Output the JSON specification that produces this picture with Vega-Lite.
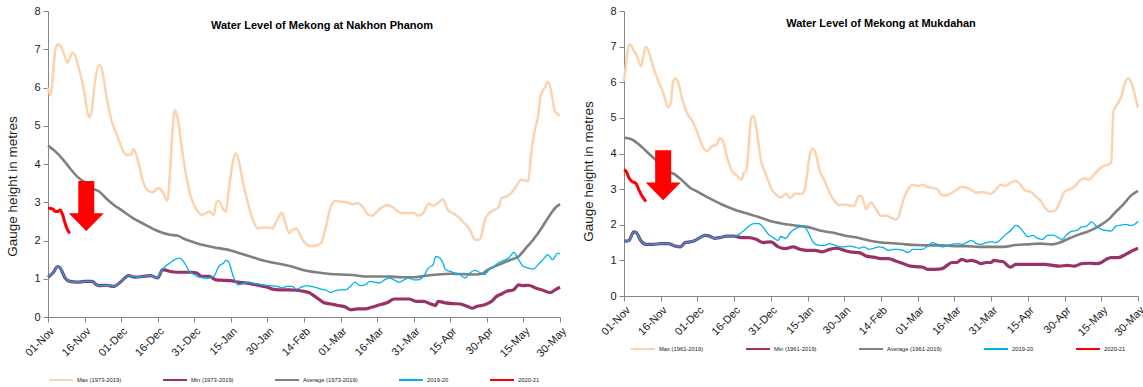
{
  "$schema": "https://vega.github.io/schema/vega-lite/v6.json",
  "background": "white",
  "padding": {"left": 5, "top": 5, "right": 0, "bottom": 5},
  "spacing": 13,
  "datasets": {
    "np": [
      {"s":"max","d":0,"v":6.0},{"s":"max","d":1,"v":5.79},{"s":"max","d":3,"v":6.98},{"s":"max","d":4,"v":7.13},{"s":"max","d":6,"v":6.98},{"s":"max","d":8,"v":6.65},{"s":"max","d":10,"v":6.91},{"s":"max","d":11,"v":6.85},{"s":"max","d":13,"v":6.41},{"s":"max","d":15,"v":5.85},{"s":"max","d":16,"v":5.41},{"s":"max","d":17,"v":5.22},{"s":"max","d":18,"v":5.41},{"s":"max","d":19,"v":6.02},{"s":"max","d":21,"v":6.59},{"s":"max","d":22,"v":6.5},{"s":"max","d":24,"v":5.76},{"s":"max","d":26,"v":5.15},{"s":"max","d":28,"v":4.8},{"s":"max","d":30,"v":4.46},{"s":"max","d":32,"v":4.24},{"s":"max","d":34,"v":4.24},{"s":"max","d":35,"v":4.39},{"s":"max","d":37,"v":4.06},{"s":"max","d":39,"v":3.54},{"s":"max","d":41,"v":3.3},{"s":"max","d":43,"v":3.26},{"s":"max","d":45,"v":3.37},{"s":"max","d":47,"v":3.28},{"s":"max","d":49,"v":3.04},{"s":"max","d":50,"v":3.76},{"s":"max","d":51,"v":4.8},{"s":"max","d":52,"v":5.41},{"s":"max","d":53,"v":5.24},{"s":"max","d":55,"v":4.37},{"s":"max","d":57,"v":3.59},{"s":"max","d":59,"v":3.06},{"s":"max","d":61,"v":2.8},{"s":"max","d":63,"v":2.67},{"s":"max","d":65,"v":2.72},{"s":"max","d":66,"v":2.76},{"s":"max","d":68,"v":2.67},{"s":"max","d":69,"v":2.98},{"s":"max","d":70,"v":3.04},{"s":"max","d":72,"v":2.8},{"s":"max","d":73,"v":2.76},{"s":"max","d":74,"v":3.24},{"s":"max","d":76,"v":4.11},{"s":"max","d":77,"v":4.28},{"s":"max","d":78,"v":4.15},{"s":"max","d":80,"v":3.5},{"s":"max","d":82,"v":2.98},{"s":"max","d":84,"v":2.54},{"s":"max","d":86,"v":2.32},{"s":"max","d":88,"v":2.34},{"s":"max","d":90,"v":2.34},{"s":"max","d":92,"v":2.32},{"s":"max","d":94,"v":2.54},{"s":"max","d":96,"v":2.73},{"s":"max","d":97,"v":2.54},{"s":"max","d":99,"v":2.19},{"s":"max","d":100,"v":2.28},{"s":"max","d":102,"v":2.31},{"s":"max","d":104,"v":2.06},{"s":"max","d":106,"v":1.91},{"s":"max","d":108,"v":1.85},{"s":"max","d":110,"v":1.87},{"s":"max","d":112,"v":1.93},{"s":"max","d":114,"v":2.37},{"s":"max","d":116,"v":2.89},{"s":"max","d":118,"v":3.04},{"s":"max","d":120,"v":3.02},{"s":"max","d":123,"v":2.99},{"s":"max","d":125,"v":2.95},{"s":"max","d":127,"v":2.98},{"s":"max","d":129,"v":2.89},{"s":"max","d":131,"v":2.69},{"s":"max","d":133,"v":2.65},{"s":"max","d":135,"v":2.76},{"s":"max","d":137,"v":2.87},{"s":"max","d":139,"v":2.93},{"s":"max","d":141,"v":2.89},{"s":"max","d":143,"v":2.78},{"s":"max","d":145,"v":2.72},{"s":"max","d":148,"v":2.72},{"s":"max","d":150,"v":2.72},{"s":"max","d":152,"v":2.65},{"s":"max","d":154,"v":2.72},{"s":"max","d":156,"v":2.96},{"s":"max","d":158,"v":2.91},{"s":"max","d":160,"v":2.98},{"s":"max","d":162,"v":3.08},{"s":"max","d":164,"v":2.8},{"s":"max","d":166,"v":2.72},{"s":"max","d":168,"v":2.63},{"s":"max","d":170,"v":2.5},{"s":"max","d":172,"v":2.37},{"s":"max","d":173,"v":2.28},{"s":"max","d":174,"v":2.15},{"s":"max","d":175,"v":2.02},{"s":"max","d":177,"v":2.02},{"s":"max","d":178,"v":2.19},{"s":"max","d":179,"v":2.5},{"s":"max","d":181,"v":2.72},{"s":"max","d":183,"v":2.8},{"s":"max","d":185,"v":2.89},{"s":"max","d":186,"v":3.11},{"s":"max","d":188,"v":3.15},{"s":"max","d":190,"v":3.24},{"s":"max","d":192,"v":3.41},{"s":"max","d":194,"v":3.59},{"s":"max","d":196,"v":3.56},{"s":"max","d":197,"v":3.55},{"s":"max","d":198,"v":4.2},{"s":"max","d":200,"v":4.98},{"s":"max","d":201,"v":5.24},{"s":"max","d":202,"v":5.76},{"s":"max","d":204,"v":6.02},{"s":"max","d":205,"v":6.15},{"s":"max","d":206,"v":6.02},{"s":"max","d":207,"v":5.67},{"s":"max","d":208,"v":5.37},{"s":"max","d":210,"v":5.26},
      {"s":"avg","d":0,"v":4.48},{"s":"avg","d":3,"v":4.33},{"s":"avg","d":6,"v":4.13},{"s":"avg","d":9,"v":3.89},{"s":"avg","d":12,"v":3.67},{"s":"avg","d":15,"v":3.52},{"s":"avg","d":18,"v":3.37},{"s":"avg","d":21,"v":3.28},{"s":"avg","d":24,"v":3.09},{"s":"avg","d":27,"v":2.93},{"s":"avg","d":30,"v":2.8},{"s":"avg","d":35,"v":2.58},{"s":"avg","d":40,"v":2.41},{"s":"avg","d":45,"v":2.25},{"s":"avg","d":50,"v":2.15},{"s":"avg","d":53,"v":2.13},{"s":"avg","d":56,"v":2.04},{"s":"avg","d":60,"v":1.95},{"s":"avg","d":65,"v":1.86},{"s":"avg","d":70,"v":1.8},{"s":"avg","d":75,"v":1.74},{"s":"avg","d":80,"v":1.64},{"s":"avg","d":85,"v":1.54},{"s":"avg","d":90,"v":1.45},{"s":"avg","d":95,"v":1.39},{"s":"avg","d":100,"v":1.32},{"s":"avg","d":105,"v":1.22},{"s":"avg","d":110,"v":1.17},{"s":"avg","d":115,"v":1.13},{"s":"avg","d":120,"v":1.11},{"s":"avg","d":125,"v":1.1},{"s":"avg","d":130,"v":1.06},{"s":"avg","d":135,"v":1.06},{"s":"avg","d":140,"v":1.06},{"s":"avg","d":145,"v":1.04},{"s":"avg","d":150,"v":1.04},{"s":"avg","d":155,"v":1.08},{"s":"avg","d":160,"v":1.11},{"s":"avg","d":165,"v":1.13},{"s":"avg","d":170,"v":1.12},{"s":"avg","d":175,"v":1.11},{"s":"avg","d":178,"v":1.13},{"s":"avg","d":180,"v":1.22},{"s":"avg","d":185,"v":1.37},{"s":"avg","d":190,"v":1.5},{"s":"avg","d":193,"v":1.58},{"s":"avg","d":196,"v":1.8},{"s":"avg","d":199,"v":2.02},{"s":"avg","d":202,"v":2.28},{"s":"avg","d":205,"v":2.58},{"s":"avg","d":208,"v":2.85},{"s":"avg","d":210,"v":2.95},
      {"s":"min","d":0,"v":1.04},{"s":"min","d":2,"v":1.15},{"s":"min","d":4,"v":1.32},{"s":"min","d":5,"v":1.28},{"s":"min","d":7,"v":1.02},{"s":"min","d":9,"v":0.93},{"s":"min","d":12,"v":0.91},{"s":"min","d":15,"v":0.93},{"s":"min","d":18,"v":0.93},{"s":"min","d":20,"v":0.84},{"s":"min","d":21,"v":0.82},{"s":"min","d":24,"v":0.83},{"s":"min","d":27,"v":0.8},{"s":"min","d":30,"v":0.93},{"s":"min","d":33,"v":1.08},{"s":"min","d":36,"v":1.04},{"s":"min","d":39,"v":1.06},{"s":"min","d":42,"v":1.08},{"s":"min","d":45,"v":1.02},{"s":"min","d":47,"v":1.24},{"s":"min","d":50,"v":1.19},{"s":"min","d":53,"v":1.17},{"s":"min","d":56,"v":1.17},{"s":"min","d":59,"v":1.17},{"s":"min","d":61,"v":1.15},{"s":"min","d":63,"v":1.06},{"s":"min","d":66,"v":1.06},{"s":"min","d":69,"v":0.97},{"s":"min","d":72,"v":0.96},{"s":"min","d":75,"v":0.95},{"s":"min","d":78,"v":0.91},{"s":"min","d":81,"v":0.89},{"s":"min","d":84,"v":0.86},{"s":"min","d":87,"v":0.82},{"s":"min","d":90,"v":0.78},{"s":"min","d":92,"v":0.73},{"s":"min","d":95,"v":0.71},{"s":"min","d":99,"v":0.71},{"s":"min","d":102,"v":0.7},{"s":"min","d":105,"v":0.67},{"s":"min","d":107,"v":0.64},{"s":"min","d":109,"v":0.56},{"s":"min","d":111,"v":0.47},{"s":"min","d":113,"v":0.38},{"s":"min","d":116,"v":0.34},{"s":"min","d":119,"v":0.3},{"s":"min","d":122,"v":0.26},{"s":"min","d":124,"v":0.19},{"s":"min","d":127,"v":0.21},{"s":"min","d":130,"v":0.21},{"s":"min","d":133,"v":0.26},{"s":"min","d":136,"v":0.32},{"s":"min","d":139,"v":0.37},{"s":"min","d":142,"v":0.47},{"s":"min","d":145,"v":0.47},{"s":"min","d":148,"v":0.47},{"s":"min","d":151,"v":0.41},{"s":"min","d":154,"v":0.41},{"s":"min","d":157,"v":0.34},{"s":"min","d":159,"v":0.3},{"s":"min","d":160,"v":0.41},{"s":"min","d":163,"v":0.37},{"s":"min","d":166,"v":0.35},{"s":"min","d":169,"v":0.34},{"s":"min","d":172,"v":0.28},{"s":"min","d":174,"v":0.23},{"s":"min","d":176,"v":0.28},{"s":"min","d":179,"v":0.32},{"s":"min","d":182,"v":0.41},{"s":"min","d":184,"v":0.54},{"s":"min","d":186,"v":0.6},{"s":"min","d":188,"v":0.67},{"s":"min","d":191,"v":0.71},{"s":"min","d":193,"v":0.84},{"s":"min","d":195,"v":0.82},{"s":"min","d":197,"v":0.83},{"s":"min","d":200,"v":0.76},{"s":"min","d":203,"v":0.7},{"s":"min","d":206,"v":0.64},{"s":"min","d":208,"v":0.71},{"s":"min","d":210,"v":0.78},
      {"s":"y1920","d":0,"v":1.06},{"s":"y1920","d":2,"v":1.15},{"s":"y1920","d":4,"v":1.32},{"s":"y1920","d":5,"v":1.28},{"s":"y1920","d":7,"v":1.02},{"s":"y1920","d":9,"v":0.93},{"s":"y1920","d":12,"v":0.91},{"s":"y1920","d":15,"v":0.93},{"s":"y1920","d":18,"v":0.93},{"s":"y1920","d":20,"v":0.84},{"s":"y1920","d":21,"v":0.82},{"s":"y1920","d":24,"v":0.83},{"s":"y1920","d":27,"v":0.8},{"s":"y1920","d":30,"v":0.93},{"s":"y1920","d":33,"v":1.08},{"s":"y1920","d":36,"v":1.04},{"s":"y1920","d":39,"v":1.06},{"s":"y1920","d":42,"v":1.08},{"s":"y1920","d":45,"v":1.02},{"s":"y1920","d":46,"v":1.15},{"s":"y1920","d":48,"v":1.32},{"s":"y1920","d":50,"v":1.41},{"s":"y1920","d":52,"v":1.5},{"s":"y1920","d":54,"v":1.54},{"s":"y1920","d":56,"v":1.41},{"s":"y1920","d":58,"v":1.19},{"s":"y1920","d":60,"v":1.11},{"s":"y1920","d":62,"v":1.04},{"s":"y1920","d":64,"v":1.02},{"s":"y1920","d":66,"v":1.02},{"s":"y1920","d":68,"v":1.06},{"s":"y1920","d":70,"v":1.32},{"s":"y1920","d":72,"v":1.41},{"s":"y1920","d":73,"v":1.48},{"s":"y1920","d":74,"v":1.45},{"s":"y1920","d":76,"v":1.06},{"s":"y1920","d":78,"v":0.84},{"s":"y1920","d":80,"v":0.87},{"s":"y1920","d":82,"v":0.91},{"s":"y1920","d":85,"v":0.87},{"s":"y1920","d":88,"v":0.84},{"s":"y1920","d":91,"v":0.82},{"s":"y1920","d":94,"v":0.8},{"s":"y1920","d":96,"v":0.76},{"s":"y1920","d":98,"v":0.8},{"s":"y1920","d":100,"v":0.8},{"s":"y1920","d":102,"v":0.73},{"s":"y1920","d":104,"v":0.78},{"s":"y1920","d":106,"v":0.82},{"s":"y1920","d":108,"v":0.8},{"s":"y1920","d":110,"v":0.77},{"s":"y1920","d":112,"v":0.73},{"s":"y1920","d":114,"v":0.7},{"s":"y1920","d":116,"v":0.64},{"s":"y1920","d":118,"v":0.69},{"s":"y1920","d":120,"v":0.71},{"s":"y1920","d":122,"v":0.71},{"s":"y1920","d":124,"v":0.8},{"s":"y1920","d":126,"v":0.91},{"s":"y1920","d":128,"v":0.82},{"s":"y1920","d":130,"v":0.84},{"s":"y1920","d":132,"v":0.93},{"s":"y1920","d":134,"v":0.91},{"s":"y1920","d":136,"v":0.89},{"s":"y1920","d":138,"v":0.97},{"s":"y1920","d":140,"v":1.02},{"s":"y1920","d":142,"v":0.97},{"s":"y1920","d":144,"v":0.91},{"s":"y1920","d":146,"v":0.97},{"s":"y1920","d":148,"v":1.02},{"s":"y1920","d":150,"v":0.97},{"s":"y1920","d":152,"v":0.97},{"s":"y1920","d":154,"v":1.06},{"s":"y1920","d":156,"v":1.28},{"s":"y1920","d":158,"v":1.37},{"s":"y1920","d":159,"v":1.58},{"s":"y1920","d":160,"v":1.57},{"s":"y1920","d":162,"v":1.41},{"s":"y1920","d":163,"v":1.24},{"s":"y1920","d":165,"v":1.19},{"s":"y1920","d":167,"v":1.15},{"s":"y1920","d":169,"v":1.11},{"s":"y1920","d":171,"v":1.02},{"s":"y1920","d":173,"v":1.15},{"s":"y1920","d":175,"v":1.22},{"s":"y1920","d":177,"v":1.17},{"s":"y1920","d":179,"v":1.11},{"s":"y1920","d":181,"v":1.24},{"s":"y1920","d":183,"v":1.32},{"s":"y1920","d":185,"v":1.43},{"s":"y1920","d":187,"v":1.48},{"s":"y1920","d":189,"v":1.54},{"s":"y1920","d":191,"v":1.69},{"s":"y1920","d":193,"v":1.5},{"s":"y1920","d":195,"v":1.32},{"s":"y1920","d":197,"v":1.28},{"s":"y1920","d":199,"v":1.25},{"s":"y1920","d":201,"v":1.37},{"s":"y1920","d":203,"v":1.5},{"s":"y1920","d":205,"v":1.63},{"s":"y1920","d":207,"v":1.5},{"s":"y1920","d":209,"v":1.67},{"s":"y1920","d":210,"v":1.65},
      {"s":"y2021","d":0,"v":2.85},{"s":"y2021","d":2,"v":2.82},{"s":"y2021","d":3,"v":2.76},{"s":"y2021","d":4,"v":2.76},{"s":"y2021","d":5,"v":2.8},{"s":"y2021","d":6,"v":2.67},{"s":"y2021","d":7,"v":2.45},{"s":"y2021","d":8,"v":2.28},{"s":"y2021","d":9,"v":2.19}
    ],
    "mk": [
      {"s":"max","d":0,"v":6.03},{"s":"max","d":1,"v":6.6},{"s":"max","d":2,"v":7.06},{"s":"max","d":3,"v":7.02},{"s":"max","d":4,"v":6.88},{"s":"max","d":5,"v":6.78},{"s":"max","d":7,"v":6.45},{"s":"max","d":8,"v":6.78},{"s":"max","d":9,"v":6.99},{"s":"max","d":10,"v":6.88},{"s":"max","d":12,"v":6.41},{"s":"max","d":14,"v":6.03},{"s":"max","d":16,"v":5.71},{"s":"max","d":18,"v":5.3},{"s":"max","d":19,"v":5.38},{"s":"max","d":20,"v":5.99},{"s":"max","d":21,"v":6.11},{"s":"max","d":22,"v":6.03},{"s":"max","d":24,"v":5.47},{"s":"max","d":26,"v":5.1},{"s":"max","d":28,"v":4.91},{"s":"max","d":30,"v":4.58},{"s":"max","d":32,"v":4.21},{"s":"max","d":34,"v":4.07},{"s":"max","d":36,"v":4.21},{"s":"max","d":38,"v":4.26},{"s":"max","d":39,"v":4.42},{"s":"max","d":40,"v":4.4},{"s":"max","d":42,"v":3.93},{"s":"max","d":44,"v":3.51},{"s":"max","d":46,"v":3.39},{"s":"max","d":48,"v":3.27},{"s":"max","d":49,"v":3.46},{"s":"max","d":50,"v":3.51},{"s":"max","d":51,"v":4.26},{"s":"max","d":52,"v":5.0},{"s":"max","d":53,"v":5.05},{"s":"max","d":54,"v":4.72},{"s":"max","d":56,"v":3.79},{"s":"max","d":58,"v":3.41},{"s":"max","d":60,"v":3.04},{"s":"max","d":62,"v":2.85},{"s":"max","d":64,"v":2.76},{"s":"max","d":66,"v":2.87},{"s":"max","d":68,"v":2.76},{"s":"max","d":70,"v":2.87},{"s":"max","d":72,"v":2.87},{"s":"max","d":73,"v":2.87},{"s":"max","d":74,"v":3.04},{"s":"max","d":76,"v":3.99},{"s":"max","d":77,"v":4.13},{"s":"max","d":78,"v":4.07},{"s":"max","d":80,"v":3.51},{"s":"max","d":82,"v":3.23},{"s":"max","d":84,"v":2.9},{"s":"max","d":86,"v":2.67},{"s":"max","d":88,"v":2.55},{"s":"max","d":90,"v":2.57},{"s":"max","d":92,"v":2.55},{"s":"max","d":94,"v":2.53},{"s":"max","d":96,"v":2.81},{"s":"max","d":97,"v":2.81},{"s":"max","d":99,"v":2.43},{"s":"max","d":100,"v":2.57},{"s":"max","d":101,"v":2.62},{"s":"max","d":103,"v":2.43},{"s":"max","d":105,"v":2.25},{"s":"max","d":107,"v":2.25},{"s":"max","d":109,"v":2.2},{"s":"max","d":111,"v":2.15},{"s":"max","d":112,"v":2.2},{"s":"max","d":114,"v":2.67},{"s":"max","d":116,"v":2.99},{"s":"max","d":118,"v":3.12},{"s":"max","d":120,"v":3.09},{"s":"max","d":122,"v":3.12},{"s":"max","d":124,"v":3.06},{"s":"max","d":126,"v":3.04},{"s":"max","d":128,"v":2.99},{"s":"max","d":130,"v":2.83},{"s":"max","d":132,"v":2.83},{"s":"max","d":134,"v":2.9},{"s":"max","d":136,"v":2.99},{"s":"max","d":138,"v":3.06},{"s":"max","d":140,"v":3.04},{"s":"max","d":142,"v":2.97},{"s":"max","d":144,"v":2.9},{"s":"max","d":146,"v":2.92},{"s":"max","d":148,"v":2.9},{"s":"max","d":150,"v":2.87},{"s":"max","d":152,"v":2.99},{"s":"max","d":154,"v":3.12},{"s":"max","d":156,"v":3.09},{"s":"max","d":158,"v":3.18},{"s":"max","d":160,"v":3.23},{"s":"max","d":162,"v":3.13},{"s":"max","d":164,"v":2.95},{"s":"max","d":166,"v":2.93},{"s":"max","d":168,"v":2.81},{"s":"max","d":170,"v":2.69},{"s":"max","d":172,"v":2.48},{"s":"max","d":174,"v":2.37},{"s":"max","d":176,"v":2.39},{"s":"max","d":178,"v":2.62},{"s":"max","d":180,"v":2.93},{"s":"max","d":182,"v":2.99},{"s":"max","d":184,"v":3.06},{"s":"max","d":186,"v":3.23},{"s":"max","d":188,"v":3.3},{"s":"max","d":190,"v":3.27},{"s":"max","d":192,"v":3.41},{"s":"max","d":194,"v":3.55},{"s":"max","d":196,"v":3.65},{"s":"max","d":198,"v":3.69},{"s":"max","d":199,"v":3.75},{"s":"max","d":200,"v":5.19},{"s":"max","d":202,"v":5.43},{"s":"max","d":203,"v":5.57},{"s":"max","d":205,"v":6.03},{"s":"max","d":206,"v":6.11},{"s":"max","d":207,"v":6.03},{"s":"max","d":209,"v":5.57},{"s":"max","d":210,"v":5.29},
      {"s":"avg","d":0,"v":4.44},{"s":"avg","d":3,"v":4.4},{"s":"avg","d":6,"v":4.26},{"s":"avg","d":9,"v":4.07},{"s":"avg","d":12,"v":3.88},{"s":"avg","d":15,"v":3.7},{"s":"avg","d":18,"v":3.51},{"s":"avg","d":21,"v":3.4},{"s":"avg","d":24,"v":3.23},{"s":"avg","d":27,"v":3.04},{"s":"avg","d":30,"v":2.93},{"s":"avg","d":35,"v":2.74},{"s":"avg","d":40,"v":2.57},{"s":"avg","d":45,"v":2.43},{"s":"avg","d":50,"v":2.32},{"s":"avg","d":55,"v":2.22},{"s":"avg","d":60,"v":2.1},{"s":"avg","d":65,"v":2.03},{"s":"avg","d":70,"v":1.98},{"s":"avg","d":75,"v":1.94},{"s":"avg","d":80,"v":1.84},{"s":"avg","d":85,"v":1.78},{"s":"avg","d":90,"v":1.7},{"s":"avg","d":95,"v":1.64},{"s":"avg","d":100,"v":1.56},{"s":"avg","d":105,"v":1.5},{"s":"avg","d":110,"v":1.48},{"s":"avg","d":115,"v":1.45},{"s":"avg","d":120,"v":1.43},{"s":"avg","d":125,"v":1.42},{"s":"avg","d":130,"v":1.42},{"s":"avg","d":135,"v":1.4},{"s":"avg","d":140,"v":1.4},{"s":"avg","d":145,"v":1.38},{"s":"avg","d":150,"v":1.38},{"s":"avg","d":155,"v":1.38},{"s":"avg","d":160,"v":1.43},{"s":"avg","d":165,"v":1.45},{"s":"avg","d":170,"v":1.47},{"s":"avg","d":175,"v":1.45},{"s":"avg","d":178,"v":1.5},{"s":"avg","d":182,"v":1.62},{"s":"avg","d":186,"v":1.73},{"s":"avg","d":190,"v":1.82},{"s":"avg","d":194,"v":1.96},{"s":"avg","d":198,"v":2.15},{"s":"avg","d":201,"v":2.37},{"s":"avg","d":204,"v":2.57},{"s":"avg","d":207,"v":2.81},{"s":"avg","d":210,"v":2.95},
      {"s":"min","d":0,"v":1.54},{"s":"min","d":2,"v":1.56},{"s":"min","d":4,"v":1.8},{"s":"min","d":5,"v":1.78},{"s":"min","d":7,"v":1.54},{"s":"min","d":9,"v":1.45},{"s":"min","d":12,"v":1.45},{"s":"min","d":15,"v":1.47},{"s":"min","d":18,"v":1.47},{"s":"min","d":21,"v":1.4},{"s":"min","d":23,"v":1.38},{"s":"min","d":25,"v":1.5},{"s":"min","d":27,"v":1.52},{"s":"min","d":29,"v":1.56},{"s":"min","d":31,"v":1.64},{"s":"min","d":33,"v":1.7},{"s":"min","d":35,"v":1.68},{"s":"min","d":37,"v":1.62},{"s":"min","d":39,"v":1.64},{"s":"min","d":42,"v":1.68},{"s":"min","d":45,"v":1.68},{"s":"min","d":48,"v":1.64},{"s":"min","d":51,"v":1.64},{"s":"min","d":54,"v":1.59},{"s":"min","d":57,"v":1.5},{"s":"min","d":60,"v":1.52},{"s":"min","d":63,"v":1.38},{"s":"min","d":66,"v":1.33},{"s":"min","d":69,"v":1.38},{"s":"min","d":72,"v":1.31},{"s":"min","d":75,"v":1.28},{"s":"min","d":78,"v":1.28},{"s":"min","d":81,"v":1.24},{"s":"min","d":84,"v":1.31},{"s":"min","d":87,"v":1.34},{"s":"min","d":90,"v":1.28},{"s":"min","d":93,"v":1.23},{"s":"min","d":96,"v":1.22},{"s":"min","d":99,"v":1.12},{"s":"min","d":102,"v":1.09},{"s":"min","d":105,"v":1.05},{"s":"min","d":108,"v":1.05},{"s":"min","d":111,"v":0.98},{"s":"min","d":114,"v":0.91},{"s":"min","d":117,"v":0.84},{"s":"min","d":120,"v":0.82},{"s":"min","d":122,"v":0.81},{"s":"min","d":124,"v":0.75},{"s":"min","d":127,"v":0.75},{"s":"min","d":130,"v":0.77},{"s":"min","d":132,"v":0.86},{"s":"min","d":134,"v":0.94},{"s":"min","d":136,"v":0.94},{"s":"min","d":138,"v":1.03},{"s":"min","d":140,"v":0.98},{"s":"min","d":142,"v":1.0},{"s":"min","d":144,"v":0.96},{"s":"min","d":146,"v":0.91},{"s":"min","d":148,"v":0.94},{"s":"min","d":150,"v":0.94},{"s":"min","d":151,"v":1.0},{"s":"min","d":153,"v":0.98},{"s":"min","d":155,"v":0.96},{"s":"min","d":157,"v":0.84},{"s":"min","d":158,"v":0.81},{"s":"min","d":160,"v":0.89},{"s":"min","d":163,"v":0.89},{"s":"min","d":166,"v":0.89},{"s":"min","d":169,"v":0.89},{"s":"min","d":172,"v":0.89},{"s":"min","d":175,"v":0.86},{"s":"min","d":178,"v":0.84},{"s":"min","d":181,"v":0.86},{"s":"min","d":184,"v":0.84},{"s":"min","d":187,"v":0.91},{"s":"min","d":190,"v":0.92},{"s":"min","d":193,"v":0.91},{"s":"min","d":195,"v":0.94},{"s":"min","d":197,"v":1.03},{"s":"min","d":199,"v":1.08},{"s":"min","d":202,"v":1.08},{"s":"min","d":205,"v":1.17},{"s":"min","d":208,"v":1.28},{"s":"min","d":210,"v":1.34},
      {"s":"y1920","d":0,"v":1.54},{"s":"y1920","d":2,"v":1.56},{"s":"y1920","d":4,"v":1.8},{"s":"y1920","d":5,"v":1.78},{"s":"y1920","d":7,"v":1.54},{"s":"y1920","d":9,"v":1.45},{"s":"y1920","d":12,"v":1.45},{"s":"y1920","d":15,"v":1.47},{"s":"y1920","d":18,"v":1.47},{"s":"y1920","d":21,"v":1.4},{"s":"y1920","d":23,"v":1.38},{"s":"y1920","d":25,"v":1.5},{"s":"y1920","d":27,"v":1.52},{"s":"y1920","d":29,"v":1.56},{"s":"y1920","d":31,"v":1.64},{"s":"y1920","d":33,"v":1.7},{"s":"y1920","d":35,"v":1.68},{"s":"y1920","d":37,"v":1.62},{"s":"y1920","d":39,"v":1.64},{"s":"y1920","d":42,"v":1.68},{"s":"y1920","d":45,"v":1.68},{"s":"y1920","d":47,"v":1.73},{"s":"y1920","d":49,"v":1.84},{"s":"y1920","d":51,"v":1.96},{"s":"y1920","d":53,"v":2.03},{"s":"y1920","d":55,"v":2.03},{"s":"y1920","d":57,"v":1.92},{"s":"y1920","d":59,"v":1.73},{"s":"y1920","d":61,"v":1.64},{"s":"y1920","d":63,"v":1.56},{"s":"y1920","d":64,"v":1.67},{"s":"y1920","d":66,"v":1.62},{"s":"y1920","d":68,"v":1.78},{"s":"y1920","d":70,"v":1.89},{"s":"y1920","d":72,"v":1.94},{"s":"y1920","d":74,"v":1.92},{"s":"y1920","d":75,"v":1.82},{"s":"y1920","d":77,"v":1.54},{"s":"y1920","d":79,"v":1.43},{"s":"y1920","d":82,"v":1.42},{"s":"y1920","d":84,"v":1.47},{"s":"y1920","d":86,"v":1.43},{"s":"y1920","d":88,"v":1.38},{"s":"y1920","d":90,"v":1.38},{"s":"y1920","d":92,"v":1.4},{"s":"y1920","d":94,"v":1.38},{"s":"y1920","d":96,"v":1.34},{"s":"y1920","d":98,"v":1.38},{"s":"y1920","d":100,"v":1.31},{"s":"y1920","d":102,"v":1.34},{"s":"y1920","d":104,"v":1.38},{"s":"y1920","d":106,"v":1.36},{"s":"y1920","d":108,"v":1.28},{"s":"y1920","d":110,"v":1.31},{"s":"y1920","d":112,"v":1.31},{"s":"y1920","d":114,"v":1.28},{"s":"y1920","d":116,"v":1.22},{"s":"y1920","d":118,"v":1.31},{"s":"y1920","d":120,"v":1.31},{"s":"y1920","d":122,"v":1.31},{"s":"y1920","d":124,"v":1.4},{"s":"y1920","d":126,"v":1.5},{"s":"y1920","d":128,"v":1.45},{"s":"y1920","d":130,"v":1.38},{"s":"y1920","d":132,"v":1.42},{"s":"y1920","d":134,"v":1.45},{"s":"y1920","d":136,"v":1.47},{"s":"y1920","d":138,"v":1.45},{"s":"y1920","d":140,"v":1.5},{"s":"y1920","d":142,"v":1.56},{"s":"y1920","d":144,"v":1.47},{"s":"y1920","d":146,"v":1.45},{"s":"y1920","d":148,"v":1.5},{"s":"y1920","d":150,"v":1.52},{"s":"y1920","d":152,"v":1.5},{"s":"y1920","d":154,"v":1.59},{"s":"y1920","d":156,"v":1.73},{"s":"y1920","d":158,"v":1.84},{"s":"y1920","d":160,"v":1.98},{"s":"y1920","d":161,"v":1.96},{"s":"y1920","d":163,"v":1.82},{"s":"y1920","d":165,"v":1.66},{"s":"y1920","d":167,"v":1.7},{"s":"y1920","d":169,"v":1.62},{"s":"y1920","d":171,"v":1.59},{"s":"y1920","d":173,"v":1.7},{"s":"y1920","d":175,"v":1.71},{"s":"y1920","d":177,"v":1.66},{"s":"y1920","d":179,"v":1.59},{"s":"y1920","d":181,"v":1.73},{"s":"y1920","d":183,"v":1.82},{"s":"y1920","d":185,"v":1.84},{"s":"y1920","d":187,"v":1.94},{"s":"y1920","d":189,"v":1.96},{"s":"y1920","d":191,"v":2.08},{"s":"y1920","d":193,"v":1.96},{"s":"y1920","d":195,"v":1.87},{"s":"y1920","d":197,"v":1.84},{"s":"y1920","d":199,"v":1.82},{"s":"y1920","d":201,"v":1.96},{"s":"y1920","d":203,"v":1.99},{"s":"y1920","d":205,"v":2.01},{"s":"y1920","d":207,"v":1.98},{"s":"y1920","d":209,"v":2.03},{"s":"y1920","d":210,"v":2.1},
      {"s":"y2021","d":0,"v":3.55},{"s":"y2021","d":1,"v":3.49},{"s":"y2021","d":2,"v":3.32},{"s":"y2021","d":3,"v":3.23},{"s":"y2021","d":5,"v":3.15},{"s":"y2021","d":6,"v":2.99},{"s":"y2021","d":7,"v":2.85},{"s":"y2021","d":9,"v":2.65}
    ]
  },
  "hconcat": [
    {
      "width": 512,
      "height": 306,
      "title": {"text": "Water Level of Mekong at Nakhon Phanom", "offset": -35, "dx": 18, "baseline": "alphabetic", "anchor": "middle", "font": "Liberation Sans", "fontSize": 11, "fontWeight": "bold", "color": "#000000"},
      "encoding": {
        "x": {"field": "d", "type": "quantitative", "scale": {"domain": [0, 210], "nice": false, "zero": false},
          "axis": {"title": null, "values": [0,15,30,45,60,75,90,105,120,135,150,165,180,195,210], "labelAngle": -45,
            "labelExpr": "['01-Nov','16-Nov','01-Dec','16-Dec','31-Dec','15-Jan','30-Jan','14-Feb','01-Mar','16-Mar','31-Mar','15-Apr','30-Apr','15-May','30-May'][round(datum.value/15)]"}},
        "y": {"field": "v", "type": "quantitative", "scale": {"domain": [0, 8], "nice": false},
          "axis": {"title": "Gauge height in metres", "values": [0,1,2,3,4,5,6,7,8], "titleY": 175}},
        "color": {"field": "s", "type": "nominal",
          "scale": {"domain": ["max","min","avg","y1920","y2021"], "range": ["#FCD3AF","#993366","#808080","#00B0F0","#FF0000"]},
          "legend": {"orient": "none", "legendX": 0, "legendY": 356, "direction": "horizontal", "columns": 5, "columnPadding": 37, "labelExpr": "datum.label == 'max' ? 'Max (1973-2019)' : datum.label == 'min' ? 'Min (1973-2019)' : datum.label == 'avg' ? 'Average (1973-2019)' : datum.label == 'y1920' ? '2019-20' : '2020-21'"}}
      },
      "layer": [
        {"data": {"name": "np"}, "transform": [{"filter": "datum.s == 'max'"}], "mark": {"type": "line", "interpolate": "monotone", "strokeWidth": 2.5}},
        {"data": {"name": "np"}, "transform": [{"filter": "datum.s == 'avg'"}], "mark": {"type": "line", "interpolate": "monotone", "strokeWidth": 2.6}},
        {"data": {"name": "np"}, "transform": [{"filter": "datum.s == 'min'"}], "mark": {"type": "line", "interpolate": "monotone", "strokeWidth": 3.2}},
        {"data": {"name": "np"}, "transform": [{"filter": "datum.s == 'y1920'"}], "mark": {"type": "line", "interpolate": "monotone", "strokeWidth": 1.3}},
        {"data": {"name": "np"}, "transform": [{"filter": "datum.s == 'y2021'"}], "mark": {"type": "line", "interpolate": "monotone", "strokeWidth": 3}},
        {
          "data": {"values": [{"d": 15.7, "v": 2.9}]},
          "mark": {"type": "point", "shape": "M-0.32,-1L0.32,-1L0.32,0.29L0.7,0.29L0,1L-0.7,0.29L-0.32,0.29Z", "size": 2500, "filled": true, "opacity": 1, "strokeWidth": 0},
          "encoding": {"color": {"value": "#FF0000"}}
        }
      ]
    },
    {
      "width": 514,
      "height": 285,
      "title": {"text": "Water Level of Mekong at Mukdahan", "offset": -33, "baseline": "alphabetic", "anchor": "middle", "font": "Liberation Sans", "fontSize": 11, "fontWeight": "bold", "color": "#000000"},
      "encoding": {
        "x": {"field": "d", "type": "quantitative", "scale": {"domain": [0, 210], "nice": false, "zero": false},
          "axis": {"title": null, "values": [0,15,30,45,60,75,90,105,120,135,150,165,180,195,210], "labelAngle": -45,
            "labelExpr": "['01-Nov','16-Nov','01-Dec','16-Dec','31-Dec','15-Jan','30-Jan','14-Feb','01-Mar','16-Mar','31-Mar','15-Apr','30-Apr','15-May','30-May'][round(datum.value/15)]"}},
        "y": {"field": "v", "type": "quantitative", "scale": {"domain": [0, 8], "nice": false},
          "axis": {"title": "Gauge height in metres", "values": [0,1,2,3,4,5,6,7,8], "titleY": 160}},
        "color": {"field": "s", "type": "nominal",
          "scale": {"domain": ["max","min","avg","y1920","y2021"], "range": ["#FCD3AF","#993366","#808080","#00B0F0","#FF0000"]},
          "legend": {"orient": "none", "legendX": 6, "legendY": 325, "direction": "horizontal", "columns": 5, "columnPadding": 38, "labelExpr": "datum.label == 'max' ? 'Max (1961-2019)' : datum.label == 'min' ? 'Min (1961-2019)' : datum.label == 'avg' ? 'Average (1961-2019)' : datum.label == 'y1920' ? '2019-20' : '2020-21'"}}
      },
      "layer": [
        {"data": {"name": "mk"}, "transform": [{"filter": "datum.s == 'max'"}], "mark": {"type": "line", "interpolate": "monotone", "strokeWidth": 2.5}},
        {"data": {"name": "mk"}, "transform": [{"filter": "datum.s == 'avg'"}], "mark": {"type": "line", "interpolate": "monotone", "strokeWidth": 2.6}},
        {"data": {"name": "mk"}, "transform": [{"filter": "datum.s == 'min'"}], "mark": {"type": "line", "interpolate": "monotone", "strokeWidth": 3.2}},
        {"data": {"name": "mk"}, "transform": [{"filter": "datum.s == 'y1920'"}], "mark": {"type": "line", "interpolate": "monotone", "strokeWidth": 1.3}},
        {"data": {"name": "mk"}, "transform": [{"filter": "datum.s == 'y2021'"}], "mark": {"type": "line", "interpolate": "monotone", "strokeWidth": 3}},
        {
          "data": {"values": [{"d": 16.0, "v": 3.39}]},
          "mark": {"type": "point", "shape": "M-0.32,-1L0.32,-1L0.32,0.29L0.7,0.29L0,1L-0.7,0.29L-0.32,0.29Z", "size": 2500, "filled": true, "opacity": 1, "strokeWidth": 0},
          "encoding": {"color": {"value": "#FF0000"}}
        }
      ]
    }
  ],
  "resolve": {"scale": {"color": "independent", "x": "independent", "y": "independent"}, "legend": {"color": "independent"}},
  "config": {
    "view": {"stroke": null},
    "font": "Liberation Sans",
    "axis": {"grid": false, "domainColor": "#868686", "tickColor": "#868686", "tickSize": 5, "labelPadding": 3, "labelColor": "#1a1a1a", "labelFont": "Liberation Sans", "labelFontSize": 11, "titleFont": "Liberation Sans", "titleFontSize": 13.5, "titleFontWeight": "normal", "titleColor": "#1a1a1a", "titlePadding": 14},
    "legend": {"title": null, "symbolType": "stroke", "symbolSize": 576, "symbolStrokeWidth": 2, "labelFont": "Liberation Sans", "labelFontSize": 5.8, "labelColor": "#1a1a1a", "labelOffset": 3, "columnPadding": 44, "padding": 0}
  }
}
